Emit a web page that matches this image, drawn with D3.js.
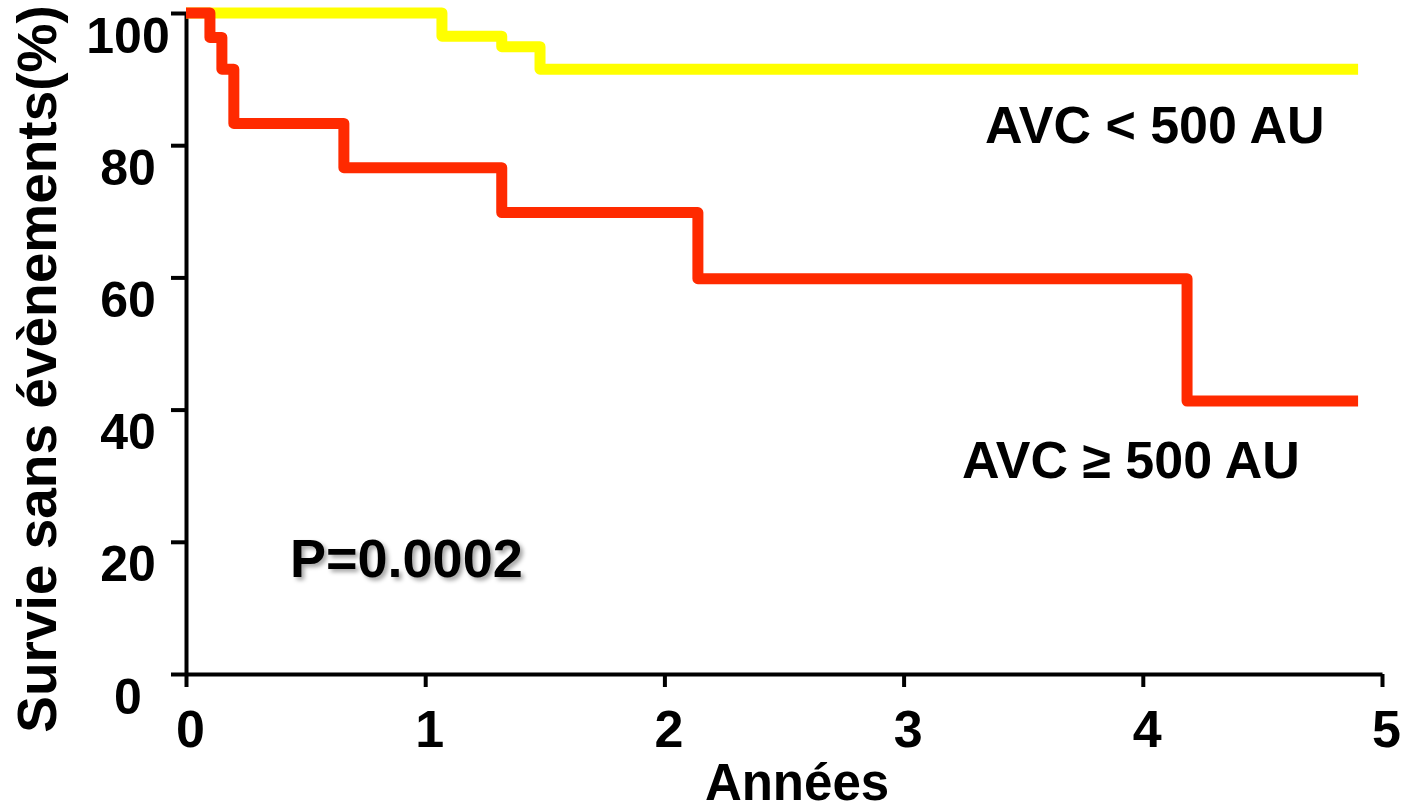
<!DOCTYPE html>
<html>
<head>
<meta charset="utf-8">
<script src="https://cdn.jsdelivr.net/npm/d3@7"></script>
<style>
  html, body { margin: 0; padding: 0; background: #fff; }
  svg { display: block; font-family: "Liberation Sans", Arial, sans-serif; font-weight: bold; }
</style>
</head>
<body>
<div id="chart"></div>
<script>
// Kaplan-Meier steps (years, % event-free)
const redTimes = [0, 0.10, 0.15, 0.20, 0.66, 1.32, 2.14, 4.185, 4.90];
const redSurv = [100, 96.3, 91.5, 83.3, 76.6, 69.8, 59.8, 41.3, 41.3];
const yellowTimes = [0, 1.07, 1.32, 1.48, 4.90];
const yellowSurv = [100, 96.5, 94.9, 91.5, 91.5];

const xTicks = [0, 1, 2, 3, 4, 5];
const yTicks = [0, 20, 40, 60, 80, 100];

const width = 1401;
const height = 806;

const svg = d3.select('#chart')
    .append('svg')
    .attr('width', width)
    .attr('height', height);

svg.append('rect').attr('width', width).attr('height', height).attr('fill', '#fff');

const defs = svg.append('defs');
const shadow = defs.append('filter').attr('id', 'shadow')
    .attr('x', '-10%').attr('y', '-20%').attr('width', '130%').attr('height', '150%');
shadow.append('feDropShadow')
    .attr('dx', 3).attr('dy', 3).attr('stdDeviation', 2)
    .attr('flood-color', '#000').attr('flood-opacity', 0.35);

const xScale = d3.scaleLinear().domain([0, 5]).range([186, 1382]);
const yScale = d3.scaleLinear().domain([0, 100]).range([674, 13]);

// axes
const yAxis = svg.append('g')
    .attr('transform', `translate(${xScale(0)}, 0)`)
    .call(d3.axisLeft(yScale).tickValues(yTicks).tickSize(15).tickSizeOuter(0));

const xAxis = svg.append('g')
    .attr('transform', `translate(0, ${yScale(0)})`)
    .call(d3.axisBottom(xScale).tickValues(xTicks).tickFormat(d3.format('d'))
        .tickSize(13).tickSizeOuter(0));

[yAxis, xAxis].forEach(g => {
    g.select('.domain').attr('stroke', '#000').attr('stroke-width', 4);
    g.selectAll('.tick line').attr('stroke', '#000').attr('stroke-width', 4);
    g.selectAll('.tick text')
        .attr('fill', '#000')
        .style('font-family', '"Liberation Sans", Arial, sans-serif')
        .style('font-weight', 'bold');
});

yAxis.selectAll('.tick text')
    .attr('text-anchor', 'middle')
    .attr('x', -58)
    .attr('dy', 39)
    .style('font-size', '50px');

xAxis.selectAll('.tick text')
    .attr('text-anchor', 'middle')
    .attr('x', 4)
    .attr('y', 0)
    .attr('dy', 73)
    .style('font-size', '52px');

// survival curves
const line = d3.line()
    .x(d => xScale(d[0]))
    .y(d => yScale(d[1]))
    .curve(d3.curveStepAfter);

svg.append('path')
    .datum(d3.zip(yellowTimes, yellowSurv))
    .attr('fill', 'none')
    .attr('stroke', '#FFFF00')
    .attr('stroke-width', 11)
    .attr('stroke-linejoin', 'round')
    .attr('d', line);

svg.append('path')
    .datum(d3.zip(redTimes, redSurv))
    .attr('fill', 'none')
    .attr('stroke', '#FF2A00')
    .attr('stroke-width', 11)
    .attr('stroke-linejoin', 'round')
    .attr('d', line);

// labels
svg.append('text')
    .attr('x', 985).attr('y', 143)
    .style('font-size', '52px')
    .text('AVC < 500 AU');

svg.append('text')
    .attr('x', 962).attr('y', 478)
    .style('font-size', '52px')
    .text('AVC ≥ 500 AU');

svg.append('text')
    .attr('x', 290).attr('y', 577)
    .style('font-size', '54px')
    .attr('filter', 'url(#shadow)')
    .text('P=0.0002');

svg.append('text')
    .attr('text-anchor', 'middle')
    .attr('x', 797).attr('y', 800)
    .style('font-size', '51px')
    .text('Années');

svg.append('text')
    .attr('text-anchor', 'middle')
    .attr('transform', 'rotate(-90)')
    .attr('x', -369).attr('y', 56)
    .style('font-size', '55px')
    .text('Survie sans évènements(%)');
</script>
</body>
</html>
